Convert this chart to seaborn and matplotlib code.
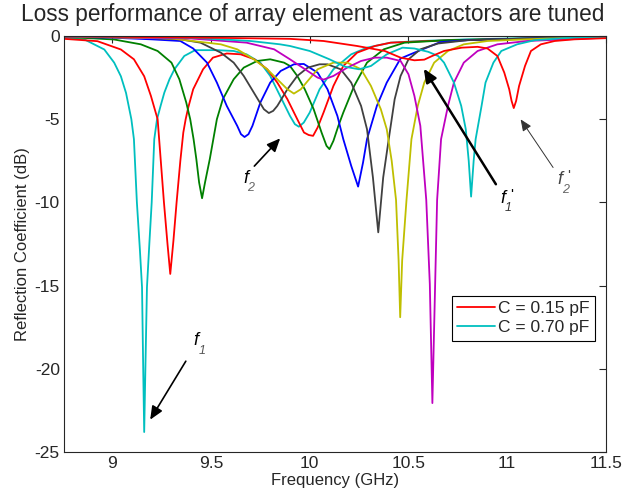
import numpy as np
import pandas as pd
import matplotlib
matplotlib.use("Agg")
import matplotlib.pyplot as plt
import seaborn as sns

# curves from C = 0.70 pF (first) down to C = 0.15 pF (last)
curve_names = ["c1", "c2", "c3", "c4", "c5", "c6", "c7", "c8", "c9"]
curve_colors = ["#00bfbf", "#ff0000", "#008000", "#0000ff", "#404040",
                "#bfbf00", "#bf00bf", "#00bfbf", "#ff0000"]

freq_c1 = [8.756, 8.86, 8.96, 9.01, 9.044, 9.07, 9.097, 9.11, 9.125, 9.14, 9.151, 9.157,
           9.162, 9.168, 9.176, 9.188, 9.20, 9.213, 9.227, 9.245, 9.264, 9.29, 9.315,
           9.365, 9.42, 9.53, 9.615, 9.68, 9.75, 9.80, 9.85, 9.90, 9.925, 9.945, 9.97,
           10.0, 10.05, 10.12, 10.21, 10.29, 10.41, 10.56, 10.8, 11.1, 11.5]
db_c1 = [-0.11, -0.21, -0.81, -1.6, -2.42, -3.42, -5.0, -6.2, -10.0, -12.8, -15.1, -20.0,
         -23.8, -20.0, -15.1, -12.5, -10.0, -6.2, -5.0, -4.2, -3.4, -2.6, -2.0,
         -1.2, -0.85, -0.85, -0.9, -1.1, -1.6, -2.4, -3.6, -4.8, -5.3, -5.45, -5.2,
         -4.6, -3.2, -2.0, -1.1, -0.7, -0.4, -0.3, -0.2, -0.13, -0.08]

freq_c2 = [8.756, 8.925, 9.044, 9.11, 9.162, 9.196, 9.23, 9.246, 9.262, 9.28, 9.294, 9.31,
           9.326, 9.345, 9.36, 9.372, 9.385, 9.41, 9.46, 9.51, 9.58, 9.65, 9.72, 9.785,
           9.836, 9.887, 9.937, 9.971, 9.995, 10.017, 10.04, 10.07, 10.12, 10.17, 10.24,
           10.33, 10.41, 10.6, 11.0, 11.5]
db_c2 = [-0.17, -0.31, -0.81, -1.4, -2.42, -3.6, -5.0, -7.5, -10.0, -12.5, -14.3, -12.3,
         -10.0, -7.5, -5.8, -5.0, -4.3, -3.2, -2.0, -1.3, -1.05, -1.1, -1.4, -2.0,
         -2.8, -3.8, -5.0, -5.8, -5.95, -6.0, -5.5, -4.6, -3.0, -1.8, -1.0,
         -0.6, -0.4, -0.3, -0.18, -0.1]

freq_c3 = [8.756, 9.01, 9.145, 9.23, 9.30, 9.34, 9.375, 9.395, 9.412, 9.426, 9.44, 9.455,
           9.47, 9.494, 9.512, 9.53, 9.56, 9.615, 9.666, 9.734, 9.80, 9.87, 9.90, 9.937,
           9.975, 10.02, 10.06, 10.085, 10.10, 10.12, 10.145, 10.17, 10.225, 10.29,
           10.375, 10.48, 10.7, 11.0, 11.5]
db_c3 = [-0.05, -0.21, -0.5, -0.9, -1.6, -2.6, -4.0, -5.0, -6.2, -7.4, -8.8, -9.75,
         -8.8, -7.4, -6.2, -5.0, -3.8, -2.6, -1.9, -1.5, -1.4, -1.6, -1.8, -2.4,
         -3.2, -4.4, -5.8, -6.6, -6.8, -6.3, -5.4, -4.6, -3.0, -1.6,
         -0.8, -0.4, -0.25, -0.17, -0.1]

freq_c4 = [8.756, 9.0, 9.2, 9.345, 9.41, 9.48, 9.53, 9.58, 9.633, 9.652, 9.67, 9.69, 9.71,
           9.75, 9.80, 9.853, 9.92, 9.97, 10.04, 10.09, 10.14, 10.17, 10.21, 10.245,
           10.27, 10.29, 10.34, 10.39, 10.46, 10.53, 10.66, 10.80, 11.1, 11.5]
db_c4 = [-0.04, -0.1, -0.2, -0.3, -0.75, -1.6, -2.8, -4.2, -5.4, -5.9, -6.07, -5.9, -5.4,
         -4.0, -2.8, -2.1, -1.7, -1.68, -2.2, -3.2, -4.8, -6.2, -7.8, -9.05,
         -7.6, -6.2, -4.2, -2.8, -1.35, -1.0, -0.37, -0.25, -0.15, -0.08]

freq_c5 = [8.756, 9.2, 9.345, 9.447, 9.55, 9.615, 9.666, 9.717, 9.768, 9.793, 9.815, 9.836,
           9.887, 9.937, 9.99, 10.05, 10.09, 10.157, 10.21, 10.26, 10.29, 10.32, 10.347,
           10.372, 10.40, 10.43, 10.46, 10.50, 10.56, 10.65, 10.8, 11.1, 11.5]
db_c5 = [-0.02, -0.12, -0.2, -0.4, -1.0, -1.6, -2.4, -3.4, -4.4, -4.63, -4.5, -4.2,
         -3.2, -2.4, -1.9, -1.7, -1.7, -2.0, -2.8, -4.2, -5.6, -8.5, -11.8,
         -8.5, -6.2, -3.8, -2.4, -1.4, -0.8, -0.45, -0.25, -0.15, -0.08]

freq_c6 = [8.756, 9.3, 9.55, 9.633, 9.717, 9.785, 9.836, 9.887, 9.92, 9.955, 9.99, 10.04,
           10.12, 10.19, 10.26, 10.31, 10.36, 10.39, 10.415, 10.437, 10.45, 10.458,
           10.468, 10.49, 10.515, 10.547, 10.58, 10.63, 10.70, 10.78, 10.90, 11.2, 11.5]
db_c6 = [-0.02, -0.15, -0.5, -0.8, -1.4, -2.0, -2.6, -3.2, -3.46, -3.2, -2.7, -2.0,
         -1.6, -1.6, -2.0, -3.0, -4.4, -5.6, -7.5, -9.85, -13.5, -16.9,
         -13.5, -9.85, -6.2, -4.2, -2.8, -1.6, -0.9, -0.5, -0.3, -0.15, -0.08]

freq_c7 = [8.756, 9.4, 9.68, 9.82, 9.90, 9.97, 10.04, 10.07, 10.12, 10.19, 10.26, 10.33,
           10.39, 10.46, 10.50, 10.53, 10.56, 10.59, 10.608, 10.621, 10.635, 10.645,
           10.665, 10.70, 10.73, 10.78, 10.85, 10.95, 11.1, 11.5]
db_c7 = [-0.02, -0.15, -0.4, -0.8, -1.4, -1.95, -2.5, -2.62, -2.4, -1.9, -1.5, -1.3,
         -1.3, -1.5, -2.3, -3.6, -5.4, -9.85, -14.9, -22.06, -14.9, -9.85,
         -6.2, -4.2, -2.8, -1.6, -0.9, -0.5, -0.3, -0.1]

freq_c8 = [8.756, 9.4, 9.7, 9.85, 9.90, 10.0, 10.1, 10.18, 10.25, 10.31, 10.39, 10.47,
           10.53, 10.6, 10.65, 10.68, 10.73, 10.767, 10.79, 10.805, 10.817, 10.83, 10.84,
           10.87, 10.89, 10.93, 10.97, 11.05, 11.14, 11.3, 11.5]
db_c8 = [-0.02, -0.1, -0.3, -0.5, -0.6, -0.9, -1.4, -1.85, -2.0, -1.8, -1.1, -0.7,
         -0.75, -0.95, -1.2, -1.6, -2.8, -4.2, -5.6, -7.5, -9.65, -7.5, -6.2,
         -4.2, -2.8, -1.6, -0.9, -0.5, -0.25, -0.12, -0.06]

freq_c9 = [8.756, 9.3, 9.6, 9.9, 10.07, 10.24, 10.38, 10.46, 10.53, 10.58, 10.62, 10.68,
           10.77, 10.85, 10.90, 10.95, 10.985, 11.01, 11.022, 11.033, 11.045, 11.06,
           11.09, 11.12, 11.17, 11.24, 11.34, 11.5]
db_c9 = [-0.02, -0.08, -0.12, -0.17, -0.3, -0.6, -0.9, -1.3, -1.46, -1.42, -1.2, -0.9,
         -0.7, -0.65, -0.75, -1.2, -2.2, -3.2, -3.9, -4.33, -3.9, -3.0,
         -1.8, -0.9, -0.5, -0.3, -0.2, -0.13]

all_freq = [freq_c1, freq_c2, freq_c3, freq_c4, freq_c5, freq_c6, freq_c7, freq_c8, freq_c9]
all_db = [db_c1, db_c2, db_c3, db_c4, db_c5, db_c6, db_c7, db_c8, db_c9]

legend_labels = {"c9": "C = 0.15 pF", "c1": "C = 0.70 pF"}

sns.set_style("white")
plt.rcParams["font.family"] = ["Liberation Sans", "DejaVu Sans"]
plt.rcParams["axes.unicode_minus"] = False

fig = plt.figure(figsize=(6.25, 4.96), dpi=100)
ax = fig.add_axes([0.1024, 0.0887, 0.8672, 0.8387])

handles = {}
for name, col, f, d in zip(curve_names, curve_colors, all_freq, all_db):
    df = pd.DataFrame({"freq": f, "dB": d})
    sns.lineplot(data=df, x="freq", y="dB", color=col, linewidth=1.3,
                 estimator=None, sort=False, ax=ax)
    handles[name] = ax.lines[-1]

ax.set_xlim(8.756, 11.5)
ax.set_ylim(-25, 0)
ax.set_xticks([9, 9.5, 10, 10.5, 11, 11.5])
ax.set_xticklabels(["9", "9.5", "10", "10.5", "11", "11.5"])
ax.set_yticks([0, -5, -10, -15, -20, -25])
ax.tick_params(direction="in", length=5, width=0.8, colors="#262626",
               labelsize=12.5, top=True, right=True, pad=3)
for sp in ax.spines.values():
    sp.set_color("#262626")
    sp.set_linewidth(0.8)

# title sits centred on the figure, above the axes
fig.text(0.5, 1 - 14 / 496, "Loss performance of array element as varactors are tuned",
         fontsize=16.3, ha="center", va="center")
ax.set_xlabel("Frequency (GHz)", fontsize=12, labelpad=1)
ax.set_ylabel("Reflection Coefficient (dB)", fontsize=12, labelpad=3)

leg = ax.legend([handles["c9"], handles["c1"]],
                [legend_labels["c9"], legend_labels["c1"]],
                loc="upper left", bbox_to_anchor=(0.715, 0.376), borderaxespad=0,
                fontsize=12.5, frameon=True, fancybox=False, framealpha=1,
                edgecolor="black", handlelength=2.2, handletextpad=0.2,
                borderpad=0.3, labelspacing=0.25)
leg.get_frame().set_linewidth(0.8)

# annotation arrows
arrow_bold = dict(arrowstyle="-|>,head_width=0.35,head_length=0.8", color="black", lw=1.2)
ax.annotate("", xy=(9.185, -23.2), xytext=(9.38, -19.4), arrowprops=arrow_bold)
ax.annotate("", xy=(9.86, -6.03), xytext=(9.71, -7.94), arrowprops=arrow_bold)
ax.annotate("", xy=(10.57, -1.82), xytext=(10.95, -9.05),
            arrowprops=dict(arrowstyle="-|>,head_width=0.35,head_length=0.8",
                            color="black", lw=1.8))
ax.annotate("", xy=(11.06, -4.87), xytext=(11.24, -8.04),
            arrowprops=dict(arrowstyle="-|>,head_width=0.3,head_length=0.7",
                            color="#333333", lw=0.7))

# f labels
def f_label(x, y, sub, subcol, prime=False, fcol="black"):
    ax.text(x, y, "f", fontsize=13, style="italic", color=fcol, ha="center", va="center")
    ax.text(x + 0.028, y - 0.6, sub, fontsize=9, style="italic", color=subcol,
            ha="center", va="center")
    if prime:
        ax.text(x + 0.045, y + 0.2, "'", fontsize=11, color=fcol, ha="center", va="center")

f_label(9.425, -18.3, "1", "#555555")
f_label(9.675, -8.54, "2", "#666666")
f_label(10.977, -9.75, "1", "#333333", prime=True)
f_label(11.265, -8.64, "2", "#666666", prime=True, fcol="#444444")

fig.savefig("out.png", dpi=100)
